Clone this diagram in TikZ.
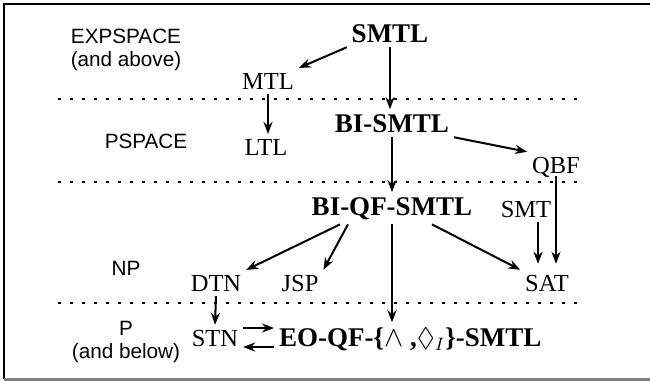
\documentclass[tikz,border=0pt]{standalone}
\usepackage{fontspec}
\setmainfont{Liberation Serif}
\setsansfont{Liberation Sans}
\usepackage{amssymb}
\usetikzlibrary{arrows.meta}

\begin{document}
\begin{tikzpicture}[x=0.5pt, y=-0.5pt, line width=1pt, >={Stealth[length=6pt,width=4.5pt]},
		cls/.style={font=\fontsize{12.25}{14}\selectfont, inner sep=2pt, anchor=base},
		bcls/.style={font=\fontsize{13.5}{16}\selectfont\bfseries, inner sep=2pt, anchor=base},
		level/.style={font=\sffamily\fontsize{10.35}{12}\selectfont, inner sep=1pt, anchor=base},
		sep/.style={line width=1.3pt, dash pattern=on 1.3pt off 4.7pt}]
		% frame
		\useasboundingbox (0,0) rectangle (650,381);
		\draw[line width=1.2pt] (4,379) -- (4,4) -- (650,4);
		\draw[gray, line width=1.5pt] (4,379) -- (650,379);
		% complexity levels
		\node[level] (expspace) at (126,43) {EXPSPACE};
		\node[level] (expabove) at (126,66) {(and above)};
		\node[level] (pspace) at (146,148) {PSPACE};
		\node[level] (np) at (126,275) {NP};
		\node[level] (p) at (126,335) {P};
		\node[level] (pbelow) at (126,358) {(and below)};
		\foreach \y in {99,182,303}
			\draw[sep] (58,\y) -- (585,\y);
		% logics and problems
		\node[bcls] (smtl) at (390,42) {SMTL};
		\node[cls] (mtl) at (268,89) {MTL};
		\node[bcls] (bismtl) at (392,132) {BI-SMTL};
		\node[cls] (ltl) at (266,155) {LTL};
		\node[cls] (qbf) at (556,173) {QBF};
		\node[bcls] (biqf) at (392,215) {BI-QF-SMTL};
		\node[cls] (smt) at (526,217) {SMT};
		\node[cls] (dtn) at (216,291) {DTN};
		\node[cls] (jsp) at (300,291) {JSP};
		\node[cls] (sat) at (547,291) {SAT};
		\node[cls] (stn) at (215,346) {STN};
		\node[bcls, anchor=base west] (eo) at (274,346) {EO-QF-\{$\wedge$ ,$\Diamond_{I}$\}-SMTL};
		% reductions
		\draw[->] (smtl.south west) -- (mtl.north east);
		\draw[->] (smtl.south) -- (smtl.south |- bismtl.north);
		\draw[->] (mtl.south) -- (mtl.south |- ltl.north);
		\draw[->] (bismtl.south east) -- (qbf.north west);
		\draw[->] (bismtl.south) -- (bismtl.south |- biqf.north);
		\coordinate (satin) at ([xshift=-4.5pt]sat.north);
		\draw[->, shorten >=3pt] ([yshift=3pt]qbf.south) -- (qbf.south |- sat.north);
		\draw[->, shorten >=3pt] (satin |- smt.south) -- (satin);
		\draw[->] ([xshift=-26pt]biqf.south) -- (dtn.north east);
		\draw[->] ([xshift=-22pt]biqf.south) -- (jsp.north east);
		\draw[->] (biqf.south) -- (biqf.south |- eo.north);
		\draw[->] ([xshift=20pt]biqf.south) -- (sat.north west);
		\draw[->] (dtn.south) -- (stn.north);
		\draw[->] ([yshift=5pt]stn.east) -- ([yshift=5pt]stn.east -| eo.west);
		\draw[->] ([yshift=-4.5pt]stn.east -| eo.west) -- ([yshift=-4.5pt]stn.east);
\end{tikzpicture}
\end{document}
